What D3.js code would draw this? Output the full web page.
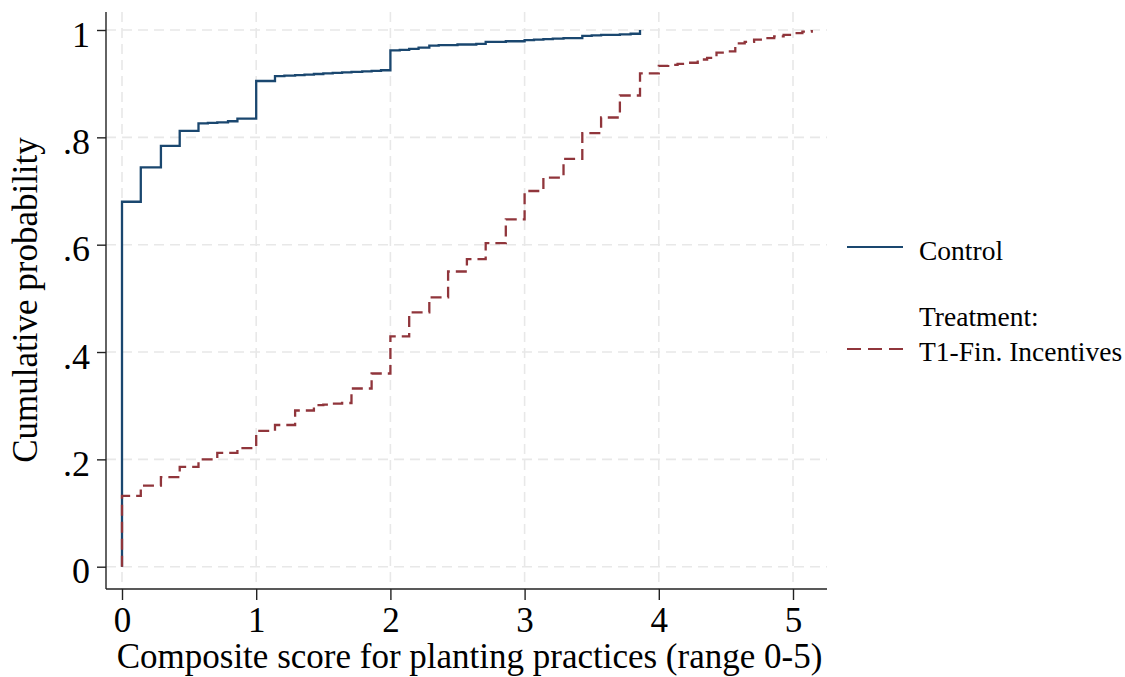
<!DOCTYPE html>
<html>
<head>
<meta charset="utf-8">
<script src="https://cdn.jsdelivr.net/npm/d3@7/dist/d3.min.js"></script>
<style>
  html, body { margin: 0; padding: 0; background: #ffffff; }
  svg text { font-family: "Liberation Serif", "Times New Roman", serif; fill: #000; }
</style>
</head>
<body>
<svg id="chart" width="1125" height="677"></svg>
<script>
// ---- Data ----
const controlX = [0, 0, 0.14, 0.29, 0.43, 0.57, 0.64, 0.71, 0.79, 0.86, 1.00, 1.14, 1.21, 1.29, 1.36, 1.43, 1.50, 1.57, 1.64, 1.71, 1.79, 1.86, 1.93,
  2.00, 2.07, 2.14, 2.21, 2.29, 2.36, 2.43, 2.50, 2.57, 2.64, 2.71, 2.79, 2.86, 2.93,
  3.00, 3.07, 3.14, 3.21, 3.29, 3.36, 3.43, 3.50, 3.57, 3.64, 3.71, 3.79, 3.86];
const controlP = [0, 0.680, 0.744, 0.784, 0.812, 0.826, 0.827, 0.828, 0.830, 0.835, 0.905, 0.914, 0.915, 0.916, 0.917, 0.918, 0.919, 0.920, 0.921, 0.922, 0.923, 0.924, 0.925,
  0.962, 0.963, 0.965, 0.967, 0.971, 0.972, 0.972, 0.973, 0.973, 0.974, 0.978, 0.978, 0.979, 0.979,
  0.981, 0.982, 0.983, 0.984, 0.985, 0.985, 0.989, 0.990, 0.991, 0.991, 0.992, 0.993, 1.000];

const treatX = [0, 0, 0.14, 0.29, 0.43, 0.57, 0.71, 0.86, 1.00, 1.14, 1.29, 1.43, 1.50, 1.57, 1.64, 1.71, 1.86,
  2.00, 2.14, 2.29, 2.43, 2.57, 2.71, 2.86, 3.00, 3.14, 3.29, 3.43, 3.57, 3.71, 3.86,
  4.00, 4.07, 4.14, 4.21, 4.29, 4.36, 4.43, 4.50, 4.57, 4.64, 4.71, 4.79, 4.86, 4.93, 5.00, 5.07, 5.14];
const treatP = [0, 0.132, 0.151, 0.167, 0.186, 0.200, 0.212, 0.221, 0.253, 0.264, 0.291, 0.301, 0.302, 0.304, 0.305, 0.332, 0.360,
  0.429, 0.474, 0.502, 0.550, 0.573, 0.603, 0.647, 0.700, 0.725, 0.760, 0.808, 0.837, 0.878, 0.919,
  0.933, 0.935, 0.937, 0.939, 0.945, 0.948, 0.958, 0.960, 0.975, 0.978, 0.982, 0.985, 0.988, 0.991, 0.994, 0.997, 1.000];

const xTicks = [0, 1, 2, 3, 4, 5];
const yTicks = [0, 0.2, 0.4, 0.6, 0.8, 1];
const yTickLabels = ["0", ".2", ".4", ".6", ".8", "1"];
const seriesNames = ["Control", "Treatment:", "T1-Fin. Incentives"];
const xTitle = "Composite score for planting practices (range 0-5)";
const yTitle = "Cumulative probability";

// ---- Layout ----
const svg = d3.select("#chart");
const plotLeft = 106, plotRight = 827, plotTop = 12, plotBottom = 589;
const x = d3.scaleLinear().domain([0, 5]).range([122, 793]);
const y = d3.scaleLinear().domain([0, 1]).range([566.7, 30]);

const gridColor = "#e8e8e8";
const blue = "#1a476f";
const red = "#90353b";

// grid
const grid = svg.append("g");
grid.selectAll(".hg").data(yTicks).enter().append("line")
  .attr("x1", plotLeft).attr("x2", plotRight)
  .attr("y1", d => y(d)).attr("y2", d => y(d))
  .attr("stroke", gridColor).attr("stroke-width", 1.6).attr("stroke-dasharray", "10,6");
grid.selectAll(".vg").data(xTicks).enter().append("line")
  .attr("y1", plotTop).attr("y2", plotBottom)
  .attr("x1", d => x(d)).attr("x2", d => x(d))
  .attr("stroke", gridColor).attr("stroke-width", 1.6).attr("stroke-dasharray", "10,6");

// axes
const xAxis = d3.axisBottom(x).tickValues(xTicks).tickSize(11).tickPadding(7).tickFormat(d3.format("d"));
const gx = svg.append("g").attr("transform", `translate(0,${plotBottom})`).call(xAxis);
gx.select(".domain").attr("d", `M${plotLeft},0H${plotRight}`).attr("stroke", "#222").attr("stroke-width", 1.4);
gx.selectAll(".tick line").attr("stroke", "#222").attr("stroke-width", 1.4);
gx.selectAll(".tick text").attr("font-size", 35).attr("font-family", "Liberation Serif").attr("fill", "#000");

const yAxis = d3.axisLeft(y).tickValues(yTicks).tickSize(9).tickPadding(7).tickFormat((d, i) => yTickLabels[i]);
const gy = svg.append("g").attr("transform", `translate(${plotLeft},0)`).call(yAxis);
gy.select(".domain").attr("d", `M0,${plotBottom}V${plotTop}`).attr("stroke", "#222").attr("stroke-width", 1.4);
gy.selectAll(".tick line").attr("stroke", "#222").attr("stroke-width", 1.4);
gy.selectAll(".tick text").attr("font-size", 36).attr("font-family", "Liberation Serif").attr("fill", "#000")
  .attr("dy", "0.45em");

// lines (control first, treatment dashes drawn on top)
const line = d3.line().x(d => x(d[0])).y(d => y(d[1])).curve(d3.curveStepAfter);
const controlData = controlX.map((v, i) => [v, controlP[i]]);
const treatData = treatX.map((v, i) => [v, treatP[i]]);

svg.append("path").datum(controlData).attr("d", line)
  .attr("fill", "none").attr("stroke", blue).attr("stroke-width", 2.3);
svg.append("path").datum(treatData).attr("d", line)
  .attr("fill", "none").attr("stroke", red).attr("stroke-width", 2.3)
  .attr("stroke-dasharray", "11,6");

// titles
svg.append("text").attr("x", 469.5).attr("y", 668)
  .attr("text-anchor", "middle").attr("font-size", 35).text(xTitle);
svg.append("text").attr("transform", `translate(37,300) rotate(-90)`)
  .attr("text-anchor", "middle").attr("font-size", 35).text(yTitle);

// legend
const lg = svg.append("g");
lg.append("line").attr("x1", 847).attr("x2", 903).attr("y1", 247).attr("y2", 247)
  .attr("stroke", blue).attr("stroke-width", 2.2);
lg.append("text").attr("x", 919).attr("y", 260).attr("font-size", 27.5).text(seriesNames[0]);
lg.append("text").attr("x", 919).attr("y", 326).attr("font-size", 27.5).text(seriesNames[1]);
lg.append("line").attr("x1", 847).attr("x2", 903).attr("y1", 349).attr("y2", 349)
  .attr("stroke", red).attr("stroke-width", 2.2).attr("stroke-dasharray", "14,7");
lg.append("text").attr("x", 919).attr("y", 361).attr("font-size", 27.5).text(seriesNames[2]);
</script>
</body>
</html>
